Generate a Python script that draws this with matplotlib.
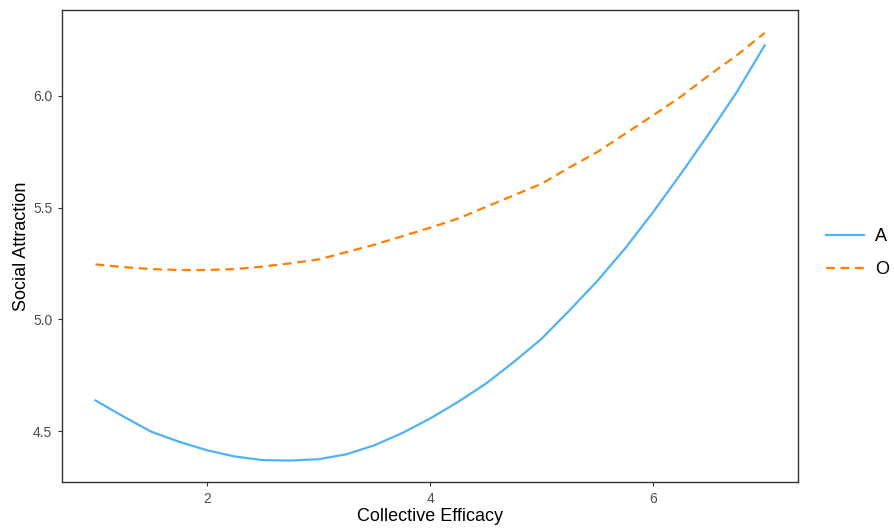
import matplotlib.pyplot as plt

plt.rcParams['font.family'] = ['Liberation Sans', 'DejaVu Sans']

# values
efficacy = [1.0, 1.25, 1.5, 1.75, 2.0, 2.25, 2.5, 2.75, 3.0, 3.25, 3.5, 3.75,
            4.0, 4.25, 4.5, 4.75, 5.0, 5.25, 5.5, 5.75, 6.0, 6.25, 6.5, 6.75, 7.0]
attraction_a = [4.637, 4.565, 4.497, 4.452, 4.414, 4.386, 4.370, 4.368, 4.374,
                4.396, 4.436, 4.491, 4.556, 4.630, 4.712, 4.809, 4.913, 5.040,
                5.172, 5.318, 5.480, 5.652, 5.831, 6.017, 6.226]
attraction_o = [5.246, 5.234, 5.225, 5.221, 5.221, 5.225, 5.236, 5.251, 5.268,
                5.301, 5.334, 5.372, 5.410, 5.451, 5.503, 5.555, 5.607, 5.680,
                5.749, 5.831, 5.913, 5.997, 6.092, 6.182, 6.282]
group_labels = ["A", "O"]
x_ticks = [2, 4, 6]
y_ticks = [4.5, 5.0, 5.5, 6.0]

fig = plt.figure(figsize=(8.94, 5.31), dpi=100)
ax = fig.add_axes([0.0694, 0.0923, 0.8233, 0.889])

ax.plot(efficacy, attraction_a, color="#4EB3F7", lw=1.6, label=group_labels[0])
ax.plot(efficacy, attraction_o, color="#FF7F00", lw=1.6, ls=(0, (4, 2.5)),
        label=group_labels[1])

ax.set_xlim(0.7, 7.3)
ax.set_ylim(4.272, 6.385)
ax.set_xticks(x_ticks)
ax.set_xticklabels([str(t) for t in x_ticks])
ax.set_yticks(y_ticks)
ax.set_yticklabels([f"{t:.1f}" for t in y_ticks])

for s in ax.spines.values():
    s.set_color("#333333")
    s.set_linewidth(1.0)
ax.tick_params(length=3, width=0.8, color="#333333", labelcolor="#4D4D4D",
               labelsize=10, pad=4)

ax.set_xlabel("Collective Efficacy", fontsize=13, color="black", labelpad=2)
ax.set_ylabel("Social Attraction", fontsize=13, color="black", labelpad=2)

ax.legend(loc="center left", bbox_to_anchor=(826 / 894, 1 - 253 / 531),
          bbox_transform=fig.transFigure, frameon=False, borderpad=0,
          borderaxespad=0, fontsize=13, handlelength=2.1, handletextpad=0.6,
          labelspacing=0.9)

fig.savefig("out.png", dpi=100)
